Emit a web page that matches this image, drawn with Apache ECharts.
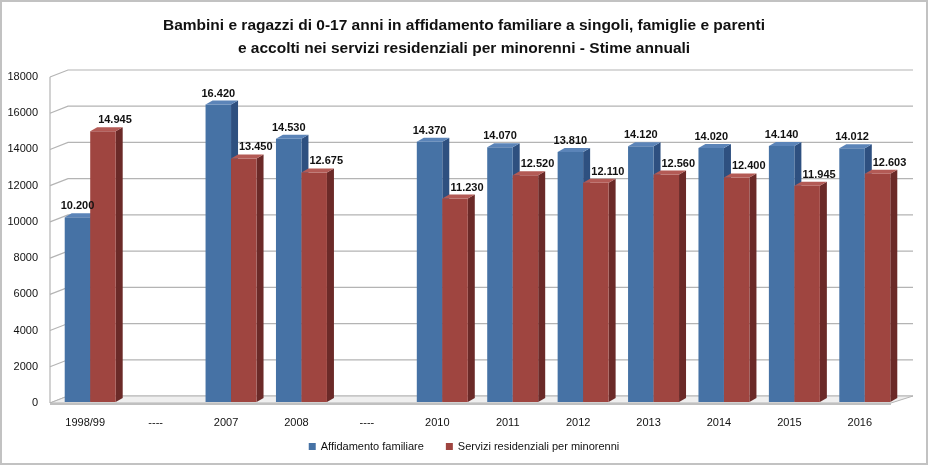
<!DOCTYPE html>
<html>
<head>
<meta charset="utf-8">
<script src="https://cdn.jsdelivr.net/npm/echarts@6/dist/echarts.min.js"></script>
<style>
  html, body { margin: 0; padding: 0; background: #fff; }
  #chart { width: 928px; height: 466px; }
</style>
</head>
<body>
<div id="chart"></div>
<script>
// dati
var categorie = ['1998/99', '----', '2007', '2008', '----', '2010', '2011', '2012', '2013', '2014', '2015', '2016'];
var affidamento = [10200, null, 16420, 14530, null, 14370, 14070, 13810, 14120, 14020, 14140, 14012];
var servizi = [14945, null, 13450, 12675, null, 11230, 12520, 12110, 12560, 12400, 11945, 12603];
var yTicks = [0, 2000, 4000, 6000, 8000, 10000, 12000, 14000, 16000, 18000];

var nomi = ['Affidamento familiare', 'Servizi residenziali per minorenni'];
var colori = [
    { front: '#4672a5', top: '#5b84b8', side: '#2e5080' },
    { front: '#9f4540', top: '#b35a55', side: '#6b2a28' }
];

var FONT = '"Liberation Sans", Arial, sans-serif';
var DEPTH_X = 18, DEPTH_Y = 7;   // profondità pareti
var BAR_DX = 7, BAR_DY = 4;      // profondità barre

function fmt(v) {
    return v.toString().replace(/\B(?=(\d{3})+(?!\d))/g, '.');
}

function toData(arr) {
    var out = [];
    arr.forEach(function (v, i) {
        if (v !== null) out.push([i, v]);
    });
    return out;
}

// posizione della barra k nella categoria
function barBox(k, api) {
    var idx = api.value(0), v = api.value(1);
    var band = api.size([1, 0])[0];
    var barW = band * 0.362;
    var base = api.coord([idx, 0]);
    var top = api.coord([idx, v]);
    var center = base[0] + 5;
    var x0 = center - barW + k * barW;
    return { x0: x0, x1: x0 + barW, yT: top[1] - 1, yB: base[1] - 1, v: v };
}

// barre 3D
function barRender(k) {
    return function (params, api) {
        var b = barBox(k, api);
        var c = colori[k];
        return {
            type: 'group',
            children: [
                { type: 'polygon', shape: { points: [[b.x1, b.yT], [b.x1 + BAR_DX, b.yT - BAR_DY], [b.x1 + BAR_DX, b.yB - BAR_DY], [b.x1, b.yB]] }, style: { fill: c.side } },
                { type: 'rect', shape: { x: b.x0, y: b.yT, width: b.x1 - b.x0, height: b.yB - b.yT }, style: { fill: c.front } },
                { type: 'polygon', shape: { points: [[b.x0, b.yT], [b.x0 + BAR_DX, b.yT - BAR_DY], [b.x1 + BAR_DX, b.yT - BAR_DY], [b.x1, b.yT]] }, style: { fill: c.top } }
            ]
        };
    };
}

// etichette sopra le barre
function labelRender(k) {
    return function (params, api) {
        var b = barBox(k, api);
        return {
            type: 'text',
            style: {
                x: (b.x0 + b.x1) / 2 + (k ? 12 : 0), y: b.yT - 11,
                text: fmt(b.v), align: 'center', verticalAlign: 'middle',
                font: 'bold 11px ' + FONT, fill: '#111'
            }
        };
    };
}

// pareti e griglia di fondo
function wallRender(params, api) {
    var v = api.value(1);
    var band = api.size([1, 0])[0];
    var p = api.coord([0, v]);
    var xL = p[0] - band / 2;
    var xR = api.coord([categorie.length - 1, v])[0] + band / 2;
    var y = p[1];
    var children = [
        { type: 'polyline', shape: { points: [[xL, y], [xL + DEPTH_X, y - DEPTH_Y], [xR + DEPTH_X, y - DEPTH_Y]] }, style: { stroke: '#b4b4b4', lineWidth: 1.2, fill: null } }
    ];
    if (v === 0) {
        var yMax = api.coord([0, yTicks[yTicks.length - 1]])[1];
        children.push(
            { type: 'polygon', shape: { points: [[xL, y], [xL + DEPTH_X, y - DEPTH_Y], [xR + DEPTH_X, y - DEPTH_Y], [xR - 4, y]] }, style: { fill: '#efefef', stroke: '#b4b4b4', lineWidth: 1 } },
            { type: 'line', shape: { x1: xL, y1: y + 1, x2: xR - 4, y2: y + 1 }, style: { stroke: '#c0c0c0', lineWidth: 2 } },
            { type: 'line', shape: { x1: xL, y1: y, x2: xL, y2: yMax }, style: { stroke: '#b4b4b4', lineWidth: 1.2 } }
        );
    }
    return { type: 'group', children: children };
}

var chart = echarts.init(document.getElementById('chart'));

var option = {
    animation: false,
    title: {
        text: 'Bambini e ragazzi di 0-17 anni in affidamento familiare a singoli, famiglie e parenti\ne accolti nei servizi residenziali per minorenni - Stime annuali',
        left: 'center',
        top: 9,
        textStyle: {
            fontFamily: FONT,
            fontWeight: 'bold',
            fontSize: 15.5,
            lineHeight: 23,
            color: '#111'
        }
    },
    legend: {
        bottom: 9,
        left: 'center',
        itemWidth: 7,
        itemHeight: 7,
        itemGap: 22,
        icon: 'rect',
        data: nomi,
        textStyle: { fontFamily: FONT, fontSize: 11, color: '#111' }
    },
    graphic: [{
        type: 'rect',
        shape: { x: 1, y: 1, width: 926, height: 463 },
        style: { fill: null, stroke: '#c2c2c2', lineWidth: 2 },
        silent: true
    }],
    grid: { left: 50, right: 33, top: 77, bottom: 63 },
    xAxis: {
        type: 'category',
        data: categorie,
        axisLine: { show: false },
        axisTick: { show: false },
        axisLabel: { margin: 14, fontFamily: FONT, fontSize: 11, color: '#111' }
    },
    yAxis: {
        type: 'value',
        min: 0,
        max: 18000,
        interval: 2000,
        axisLine: { show: false },
        axisTick: { show: false },
        splitLine: { show: false },
        axisLabel: {
            margin: 12,
            padding: [5, 0, 0, 0],
            fontFamily: FONT,
            fontSize: 11,
            color: '#111',
            formatter: function (v) { return String(v); }
        }
    },
    series: [
        {
            name: 'pareti',
            type: 'custom',
            silent: true,
            z: 1,
            renderItem: wallRender,
            encode: { x: 0, y: 1 },
            data: yTicks.map(function (v) { return [0, v]; })
        },
        {
            name: nomi[0],
            type: 'custom',
            z: 2,
            itemStyle: { color: colori[0].front },
            renderItem: barRender(0),
            encode: { x: 0, y: 1 },
            data: toData(affidamento)
        },
        {
            name: nomi[1],
            type: 'custom',
            z: 3,
            itemStyle: { color: colori[1].front },
            renderItem: barRender(1),
            encode: { x: 0, y: 1 },
            data: toData(servizi)
        },
        {
            name: 'etichette1',
            type: 'custom',
            silent: true,
            z: 4,
            renderItem: labelRender(0),
            encode: { x: 0, y: 1 },
            data: toData(affidamento)
        },
        {
            name: 'etichette2',
            type: 'custom',
            silent: true,
            z: 4,
            renderItem: labelRender(1),
            encode: { x: 0, y: 1 },
            data: toData(servizi)
        }
    ]
};

chart.setOption(option);
</script>
</body>
</html>
